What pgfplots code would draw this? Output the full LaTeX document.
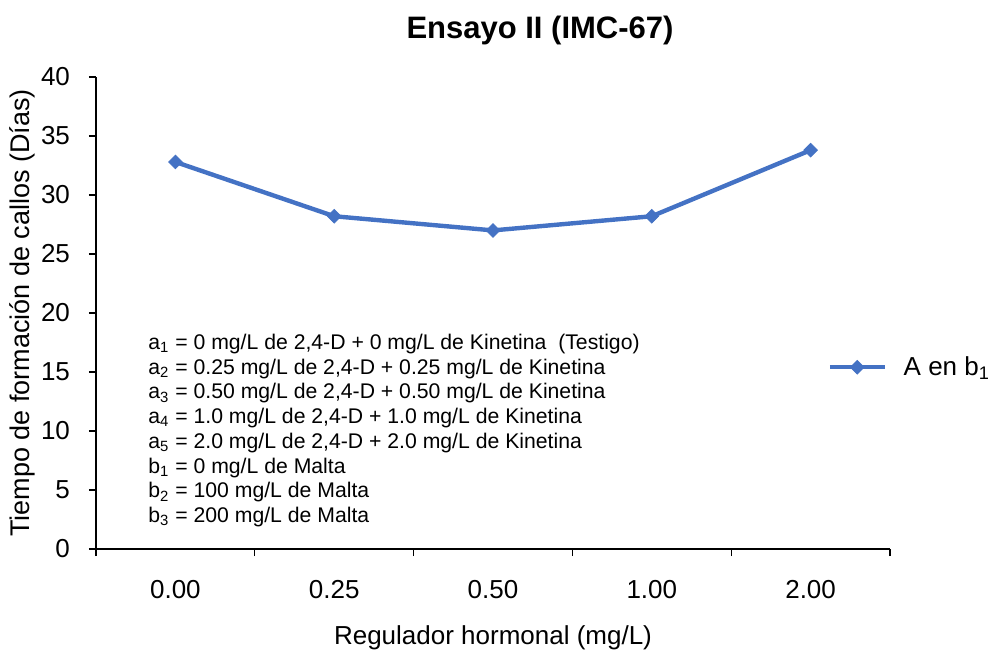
\documentclass[border=0pt]{standalone}
\usepackage{pgfplots}
\pgfplotsset{compat=1.18}
\usepackage{fontspec}
\setmainfont{Liberation Sans}
\definecolor{serieblue}{HTML}{4472C4}

\begin{document}
\begin{tikzpicture}
\begin{axis}[
  name=main,
  width=397pt, height=236pt, scale only axis,
  xmin=-0.5, xmax=4.5, ymin=0, ymax=40,
  ytick={0,5,...,40},
  xtick={-0.5,0.5,...,4.5}, xticklabels={},
  extra x ticks={0,1,2,3,4},
  extra x tick labels={0.00,0.25,0.50,1.00,2.00},
  extra x tick style={major tick length=0pt,
    xticklabel style={anchor=center, yshift=-20.5pt}},
  axis x line*=bottom, axis y line*=left,
  tick align=outside, major tick length=3.5pt,
  tick style={black, line width=0.6pt},
  axis line style={black, line width=0.6pt},
  /pgf/number format/assume math mode=true,
  tick label style={font=\fontsize{13}{15}\selectfont},
  yticklabel style={xshift=-6pt},
  legend style={at={(0.921,0.385)}, anchor=west, draw=none, fill=none,
    inner sep=0pt, font=\fontsize{13}{15}\selectfont},
  legend image code/.code={%
    \draw[mark repeat=2, mark phase=2] plot coordinates {(0cm,0cm) (0.48cm,0cm) (0.96cm,0cm)};},
]
\addplot[serieblue, line width=2.2pt, mark=square*, mark size=2.4pt,
  mark options={rotate=45, fill=serieblue, draw=serieblue, line width=0.4pt}]
  coordinates {(0,32.8) (1,28.2) (2,27.0) (3,28.2) (4,33.8)};
\addlegendentry{\hspace{6.5pt}A en b\textsubscript{1}}

\node[anchor=north west, align=left, inner sep=0pt,
  font=\fontsize{10.6}{12.35}\selectfont] at (rel axis cs:0.0655,0.456) {%
  a\textsubscript{1} = 0 mg/L de 2,4-D + 0 mg/L de Kinetina \ (Testigo)\\
  a\textsubscript{2} = 0.25 mg/L de 2,4-D + 0.25 mg/L de Kinetina\\
  a\textsubscript{3} = 0.50 mg/L de 2,4-D + 0.50 mg/L de Kinetina\\
  a\textsubscript{4} = 1.0 mg/L de 2,4-D + 1.0 mg/L de Kinetina\\
  a\textsubscript{5} = 2.0 mg/L de 2,4-D + 2.0 mg/L de Kinetina\\
  b\textsubscript{1} = 0 mg/L de Malta\\
  b\textsubscript{2} = 100 mg/L de Malta\\
  b\textsubscript{3} = 200 mg/L de Malta};
\end{axis}

% title and axis labels
\node[font=\bfseries\fontsize{15.5}{18}\selectfont]
  at ([xshift=222pt, yshift=23.5pt]main.north west) {Ensayo II (IMC-67)};
\node[font=\fontsize{13}{15}\selectfont]
  at ([yshift=-44.5pt]main.south) {Regulador hormonal (mg/L)};
\node[font=\fontsize{13.5}{15}\selectfont, rotate=90]
  at ([xshift=-37pt]main.west) {Tiempo de formación de callos (Días)};

\pgfresetboundingbox
\path ([xshift=-48pt, yshift=-52.5pt]main.south west)
  rectangle ([xshift=51pt, yshift=38.5pt]main.north east);
\end{tikzpicture}
\end{document}
